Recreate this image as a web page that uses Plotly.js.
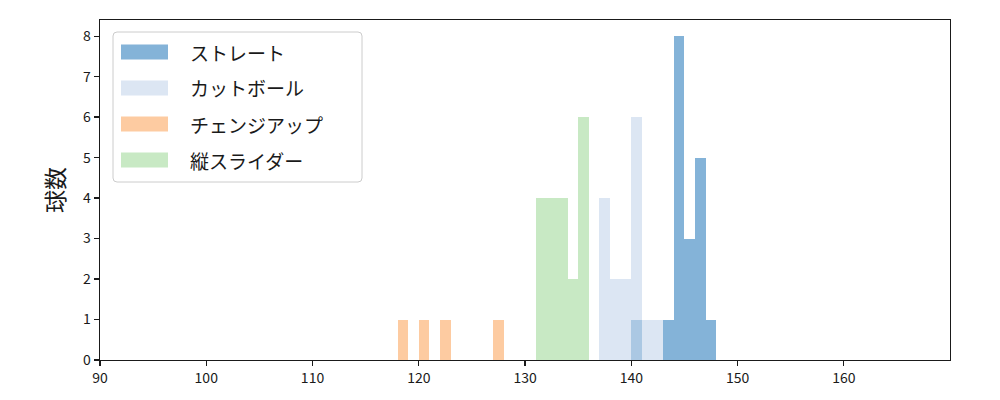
<!DOCTYPE html>
<html>
<head>
<meta charset="utf-8">
<script src="https://cdn.plot.ly/plotly-3.0.1.min.js"></script>
<style>html,body{margin:0;padding:0;background:#fff;}#chart{width:1000px;height:400px;}</style>
</head>
<body>
<div id="chart"></div>
<script>
// Data: histogram bins (bin start, width 1) and counts per pitch type
const pitchNames = ["ストレート", "カットボール", "チェンジアップ", "縦スライダー"];
const straightBins = [140, 143, 144, 145, 146, 147];
const straightCounts = [1, 1, 8, 3, 5, 1];
const cutBins = [137, 138, 139, 140, 141, 142];
const cutCounts = [4, 2, 2, 6, 1, 1];
const changeBins = [118, 120, 122, 127];
const changeCounts = [1, 1, 1, 1];
const sliderBins = [131, 132, 133, 134, 135];
const sliderCounts = [4, 4, 4, 2, 6];
const xTicks = [90, 100, 110, 120, 130, 140, 150, 160];
const yTicks = [0, 1, 2, 3, 4, 5, 6, 7, 8];
const yTitle = "球数";

const colors = [
  "rgba(20,110,180,0.52)",
  "rgba(196,213,235,0.6)",
  "rgba(251,151,68,0.5)",
  "rgba(146,212,138,0.5)"
];
const seriesBins = [straightBins, cutBins, changeBins, sliderBins];
const seriesCounts = [straightCounts, cutCounts, changeCounts, sliderCounts];

const traces = seriesBins.map((b, i) => ({
  type: "bar",
  x: b,
  y: seriesCounts[i],
  width: 1,
  offset: 0,
  marker: {color: colors[i], line: {width: 0}},
  name: pitchNames[i],
  showlegend: false,
  hoverinfo: "x+y"
}));

// plot area geometry in pixels
const L = 100, R = 950, T = 20, B = 360;
const px = x => (x - L) / (R - L);
const py = y => (B - y) / (B - T);
const JP = "Noto Sans CJK JP, DejaVu Sans, sans-serif";

const shapes = [];
const annotations = [];
// legend box with rounded corners
const bx0 = 113, bx1 = 362, by0 = 32, by1 = 182, r = 4;
const pathPts = [
  `M ${px(bx0 + r)} ${py(by0)}`,
  `L ${px(bx1 - r)} ${py(by0)}`,
  `Q ${px(bx1)} ${py(by0)} ${px(bx1)} ${py(by0 + r)}`,
  `L ${px(bx1)} ${py(by1 - r)}`,
  `Q ${px(bx1)} ${py(by1)} ${px(bx1 - r)} ${py(by1)}`,
  `L ${px(bx0 + r)} ${py(by1)}`,
  `Q ${px(bx0)} ${py(by1)} ${px(bx0)} ${py(by1 - r)}`,
  `L ${px(bx0)} ${py(by0 + r)}`,
  `Q ${px(bx0)} ${py(by0)} ${px(bx0 + r)} ${py(by0)} Z`
].join(" ");
shapes.push({type: "path", xref: "paper", yref: "paper", path: pathPts,
  fillcolor: "rgba(255,255,255,0.8)", line: {color: "#cccccc", width: 1}, layer: "above"});
pitchNames.forEach((n, i) => {
  const cy = 52 + i * 36;
  shapes.push({type: "rect", xref: "paper", yref: "paper",
    x0: px(121), x1: px(168), y0: py(cy - 7.5), y1: py(cy + 7.5),
    fillcolor: colors[i], line: {width: 0}, layer: "above"});
  annotations.push({xref: "paper", yref: "paper", x: px(188), y: py(cy),
    xanchor: "left", yanchor: "middle", showarrow: false, text: n,
    font: {size: 19, color: "#1a1a1a", family: JP}});
});

const layout = {
  width: 1000, height: 400,
  margin: {l: L, r: 1000 - R, t: T, b: 400 - B, pad: 0},
  paper_bgcolor: "#ffffff", plot_bgcolor: "#ffffff",
  barmode: "overlay", bargap: 0,
  showlegend: false,
  font: {family: JP, size: 14, color: "#1a1a1a"},
  xaxis: {
    range: [90, 169.99], tickvals: xTicks, ticktext: xTicks.map(String),
    showgrid: false, zeroline: false, showline: true, mirror: true,
    linecolor: "#1a1a1a", linewidth: 1.3, ticks: "outside", ticklen: 5, tickwidth: 1.3,
    tickcolor: "#1a1a1a", tickfont: {size: 14, family: JP}
  },
  yaxis: {
    range: [0, 8.4], tickvals: yTicks, ticktext: yTicks.map(String),
    showgrid: false, zeroline: false, showline: true, mirror: true,
    linecolor: "#1a1a1a", linewidth: 1.3, ticks: "outside", ticklen: 5, tickwidth: 1.3,
    tickcolor: "#1a1a1a", tickfont: {size: 14, family: JP},
    title: {text: yTitle, standoff: 12, font: {size: 23, family: JP}}
  },
  shapes: shapes,
  annotations: annotations
};

Plotly.newPlot("chart", traces, layout, {displayModeBar: false, staticPlot: true});
</script>
</body>
</html>
